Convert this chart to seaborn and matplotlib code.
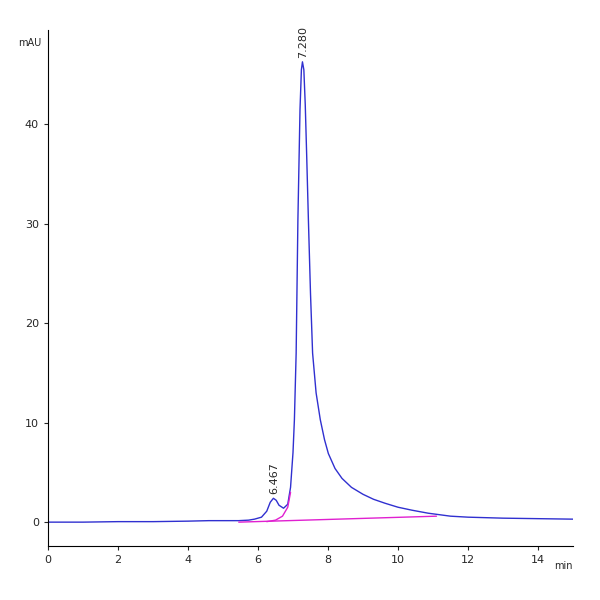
import matplotlib
matplotlib.use('Agg')
from matplotlib import pyplot as plt
import seaborn as sns

# Chromatogram trace (min, mAU)
t = [0, 1, 2, 3, 4, 4.6, 5.0, 5.45, 5.73, 5.9, 6.1, 6.25, 6.35, 6.44, 6.52, 6.6, 6.73, 6.85,
     6.93, 7.0, 7.04, 7.09, 7.14, 7.2, 7.24, 7.27, 7.31, 7.35, 7.39, 7.44, 7.5, 7.56, 7.66, 7.78, 7.9,
     8.01, 8.2, 8.4, 8.67, 9.0, 9.3, 9.63, 10.0, 10.4, 10.86, 11.5, 12, 13, 14, 15]
sig = [0.0, 0.0, 0.05, 0.05, 0.1, 0.15, 0.15, 0.15, 0.2, 0.3, 0.5, 1.1, 2.0, 2.4, 2.2, 1.7, 1.4, 1.8,
       3.5, 7.0, 10.3, 17.0, 30.4, 41.5, 45.5, 46.3, 45.5, 42.0, 37.0, 30.4, 23.0, 17.0, 13.0, 10.3, 8.3,
       6.9, 5.4, 4.4, 3.5, 2.8, 2.3, 1.9, 1.5, 1.2, 0.9, 0.6, 0.5, 0.4, 0.35, 0.3]

# integration baselines
base_t = [5.45, 11.1]
base_y = [0.0, 0.6]
skim_t = [6.25, 6.5, 6.7, 6.85, 6.93]
skim_y = [0.05, 0.2, 0.6, 1.5, 3.0]

peaks = [6.467, 7.280]
peak_h = [2.4, 46.3]

sns.set_style('white')
fig, ax = plt.subplots(figsize=(6, 6), dpi=100)
sns.lineplot(x=t, y=sig, ax=ax, color='#3030d0', lw=1)
sns.lineplot(x=base_t, y=base_y, ax=ax, color='#e020d0', lw=1)
sns.lineplot(x=skim_t, y=skim_y, ax=ax, color='#e020d0', lw=1)

for p, h in zip(peaks, peak_h):
    ax.text(p, h + 0.4, f'{p:.3f}', rotation=90, ha='center', va='bottom', fontsize=8)

ax.set_xlim(0, 15)
ax.set_ylim(-2.4, 49.5)
ax.set_xticks(range(0, 15, 2))
ax.set_yticks([0, 10, 20, 30, 40])
ax.tick_params(labelsize=8, length=3, direction='out', bottom=True, left=True)
ax.text(-0.012, 0.985, 'mAU', transform=ax.transAxes, ha='right', va='top', fontsize=7)
ax.text(1.0, -0.03, 'min', transform=ax.transAxes, ha='right', va='top', fontsize=7)
for s in ['top', 'right']:
    ax.spines[s].set_visible(False)
for s in ['left', 'bottom']:
    ax.spines[s].set_color('black')
    ax.spines[s].set_linewidth(0.8)
plt.subplots_adjust(left=0.08, right=0.955, top=0.95, bottom=0.09)
plt.savefig('out.png')
